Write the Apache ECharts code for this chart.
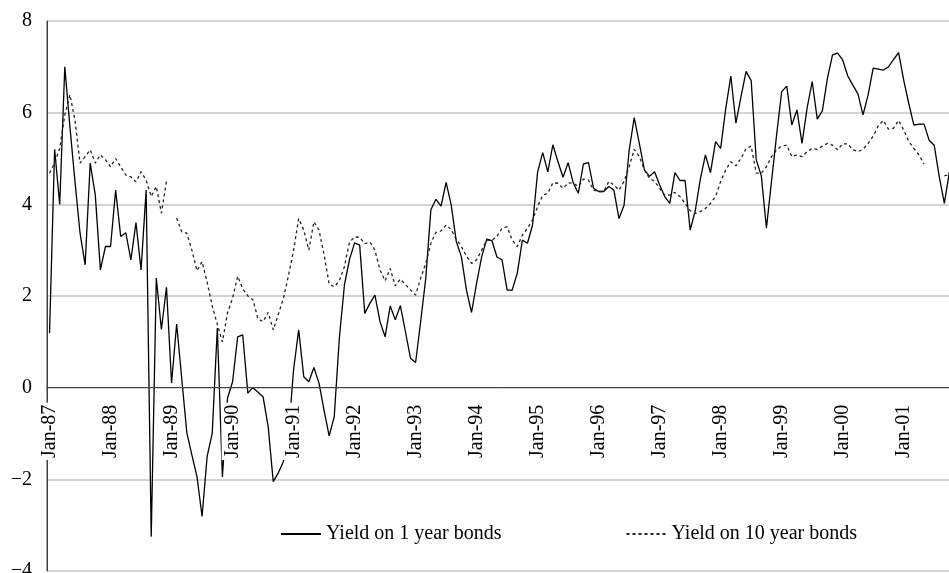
<!DOCTYPE html>
<html>
<head>
<meta charset="utf-8">
<script src="https://cdn.jsdelivr.net/npm/echarts@6/dist/echarts.min.js"></script>
<style>
  html, body { margin: 0; padding: 0; background: #fff; }
  #chart { width: 949px; height: 573px; }
</style>
</head>
<body>
<div id="chart"></div>
<script>
// Monthly categories, Jan-87 through Oct-01
const monthNames = ['Jan', 'Feb', 'Mar', 'Apr', 'May', 'Jun', 'Jul', 'Aug', 'Sep', 'Oct', 'Nov', 'Dec'];
const firstYear = 1987;
const monthCount = 178;
const categories = [];
for (let i = 0; i < monthCount; i++) {
  const yy = String((firstYear + Math.floor(i / 12)) % 100).padStart(2, '0');
  categories.push(monthNames[i % 12] + '-' + yy);
}

// Yield on 1 year bonds (%)
const yield1y = [
  1.19, 5.2, 4.0, 7.0, 5.7, 4.5, 3.37, 2.68, 4.9, 4.2, 2.57, 3.08,
  3.08, 4.31, 3.3, 3.38, 2.79, 3.6, 2.57, 4.31, -3.25, 2.39, 1.27, 2.19,
  0.1, 1.39, 0.2, -0.98, -1.47, -1.94, -2.81, -1.5, -0.99, 1.3, -1.95, -0.23,
  0.13, 1.11, 1.15, -0.12, 0.0, -0.1, -0.2, -0.85, -2.05, -1.86, -1.61, -1.0,
  0.39, 1.26, 0.24, 0.13, 0.44, 0.1, -0.5, -1.05, -0.63, 1.08, 2.24, 2.8,
  3.16, 3.11, 1.62, 1.84, 2.02, 1.44, 1.11, 1.78, 1.48, 1.79, 1.22, 0.64,
  0.55, 1.45, 2.39, 3.88, 4.11, 3.96, 4.48, 3.99, 3.19, 2.86, 2.13, 1.64,
  2.28, 2.86, 3.24, 3.21, 2.85, 2.79, 2.13, 2.13, 2.5, 3.22, 3.15, 3.55,
  4.71, 5.13, 4.71, 5.3, 4.93, 4.59, 4.91, 4.47, 4.24, 4.88, 4.91, 4.35,
  4.28, 4.28, 4.39, 4.31, 3.69, 3.98, 5.18, 5.89, 5.33, 4.75, 4.61, 4.71,
  4.42, 4.17, 4.02, 4.69, 4.52, 4.52, 3.44, 3.86, 4.55, 5.08, 4.69, 5.37,
  5.22, 6.09, 6.8, 5.77, 6.35, 6.9, 6.7, 4.97, 4.62, 3.48, 4.5, 5.51,
  6.46, 6.58, 5.73, 6.06, 5.33, 6.1, 6.68, 5.86, 6.04, 6.75, 7.26, 7.3,
  7.15, 6.8, 6.6, 6.41, 5.95, 6.39, 6.97, 6.95, 6.93, 7.0, 7.16, 7.31,
  6.71, 6.2, 5.73, 5.75, 5.75, 5.4, 5.29, 4.6, 4.02, 4.72
];

// Yield on 10 year bonds (%), null where no quote
const yield10y = [
  4.68, 4.9, 5.22, 5.95, 6.39, 5.84, 4.9, 5.04, 5.19, 4.9, 5.08, 4.97,
  4.82, 5.0, 4.82, 4.64, 4.6, 4.49, 4.71, 4.53, 4.17, 4.39, 3.81, 4.5,
  null, 3.7, 3.4, 3.37, 3.0, 2.55, 2.75, 2.3, 1.78, 1.38, 1.0, 1.63,
  1.95, 2.43, 2.16, 2.0, 1.92, 1.5, 1.44, 1.64, 1.26, 1.6, 1.95, 2.45,
  3.0, 3.69, 3.44, 3.0, 3.62, 3.44, 2.9, 2.26, 2.2, 2.33, 2.64, 3.17,
  3.29, 3.28, 3.14, 3.18, 3.0, 2.57, 2.33, 2.6, 2.22, 2.37, 2.25, 2.13,
  2.02, 2.39, 2.71, 3.15, 3.39, 3.42, 3.55, 3.45, 3.24, 3.08, 2.87, 2.71,
  2.79, 3.0, 3.22, 3.21, 3.3, 3.48, 3.51, 3.22, 3.08, 3.33, 3.48, 3.66,
  3.95, 4.2, 4.24, 4.47, 4.46, 4.35, 4.47, 4.46, 4.39, 4.55, 4.53, 4.31,
  4.28, 4.28, 4.5, 4.42, 4.31, 4.5, 4.82, 5.2, 5.04, 4.75, 4.57, 4.5,
  4.35, 4.2, 4.2, 4.26, 4.17, 4.02, 3.86, 3.8, 3.84, 3.91, 4.02, 4.17,
  4.5, 4.75, 4.93, 4.84, 5.0, 5.22, 5.27, 4.68, 4.68, 4.82, 5.04, 5.19,
  5.27, 5.29, 5.04, 5.08, 5.04, 5.15, 5.22, 5.2, 5.27, 5.33, 5.29, 5.19,
  5.32, 5.32, 5.19, 5.15, 5.2, 5.33, 5.49, 5.71, 5.83, 5.64, 5.66, 5.83,
  5.62, 5.37, 5.22, 5.08, 4.88, null, null, null, 4.62, 4.65
];

const seriesNames = ['Yield on 1 year bonds', 'Yield on 10 year bonds'];

// Value axis range
const yMin = -4, yMax = 8, yStep = 2;

const FONT = 'Liberation Serif';
const AXIS_COLOR = '#404040';
const CHART_H = 573;
const plotBox = { left: 47, right: -3, top: 21, bottom: 2 };
// pixel row of the value 0 inside the plot box
const plotH = CHART_H - plotBox.top - plotBox.bottom;
const zeroY = plotBox.top + plotH * (yMax - 0) / (yMax - yMin);

const noGridExtras = { containLabel: false, outerBoundsMode: 'none' };

const chart = echarts.init(document.getElementById('chart'), null, { renderer: 'canvas' });

chart.setOption({
  animation: false,
  backgroundColor: '#fff',
  grid: [
    // main plot area
    Object.assign({ show: true, borderColor: AXIS_COLOR, borderWidth: 1 }, noGridExtras, plotBox),
    // band above zero: its bottom edge carries the date axis
    Object.assign({ show: false }, noGridExtras, {
      left: plotBox.left, right: plotBox.right, top: plotBox.top, bottom: CHART_H - zeroY
    }),
    // band below zero: its top edge carries the lower half of the cross ticks
    Object.assign({ show: false }, noGridExtras, {
      left: plotBox.left, right: plotBox.right, top: zeroY, bottom: plotBox.bottom
    })
  ],
  legend: {
    data: seriesNames,
    left: 280, top: 524, padding: 0,
    itemWidth: 40, itemHeight: 14, itemGap: 124,
    itemStyle: { color: 'rgba(0,0,0,0)', borderWidth: 0 },
    textStyle: { fontFamily: FONT, fontSize: 20, color: '#000' }
  },
  xAxis: [
    {
      type: 'category', data: categories, boundaryGap: true, gridIndex: 0,
      axisLine: { show: false }, axisTick: { show: false },
      axisLabel: { show: false }, splitLine: { show: false }
    },
    {
      type: 'category', data: categories, boundaryGap: true, gridIndex: 1,
      position: 'bottom', z: 10,
      axisLine: { onZero: false, lineStyle: { color: AXIS_COLOR, width: 1 } },
      axisTick: { interval: 11, length: 6, inside: true, lineStyle: { color: AXIS_COLOR, width: 1 } },
      axisLabel: {
        interval: 11, rotate: 90, margin: 15,
        fontFamily: FONT, fontSize: 20, color: '#000',
        backgroundColor: '#fff', padding: [1, 2, 1, 2], lineHeight: 20
      },
      splitLine: { show: false }
    },
    {
      type: 'category', data: categories, boundaryGap: true, gridIndex: 2,
      position: 'top', z: 10,
      axisLine: { show: false, onZero: false },
      axisTick: { interval: 11, length: 7, inside: true, lineStyle: { color: AXIS_COLOR, width: 1 } },
      axisLabel: { show: false }, splitLine: { show: false }
    }
  ],
  yAxis: [
    {
      type: 'value', min: yMin, max: yMax, interval: yStep, gridIndex: 0,
      axisLine: { show: true, lineStyle: { color: AXIS_COLOR, width: 1 } },
      axisTick: { show: false },
      axisLabel: {
        margin: 15, fontFamily: FONT, fontSize: 20, color: '#000',
        formatter: v => (v < 0 ? '\u2212' + Math.abs(v) : String(v))
      },
      splitLine: { show: true, lineStyle: { color: '#d4d4d4', width: 2 } }
    },
    {
      type: 'value', min: 0, max: yMax, gridIndex: 1, show: false
    },
    {
      type: 'value', min: yMin, max: 0, gridIndex: 2, show: false
    }
  ],
  series: [
    {
      name: seriesNames[0], type: 'line', data: yield1y, xAxisIndex: 0, yAxisIndex: 0,
      symbol: 'none', connectNulls: false,
      lineStyle: { color: '#000', width: 1.3 },
      itemStyle: { color: '#000' }
    },
    {
      name: seriesNames[1], type: 'line', data: yield10y, xAxisIndex: 0, yAxisIndex: 0,
      symbol: 'none', connectNulls: false,
      lineStyle: { color: '#222', width: 1.3, type: [3, 3] },
      itemStyle: { color: '#222' }
    }
  ]
});
</script>
</body>
</html>
